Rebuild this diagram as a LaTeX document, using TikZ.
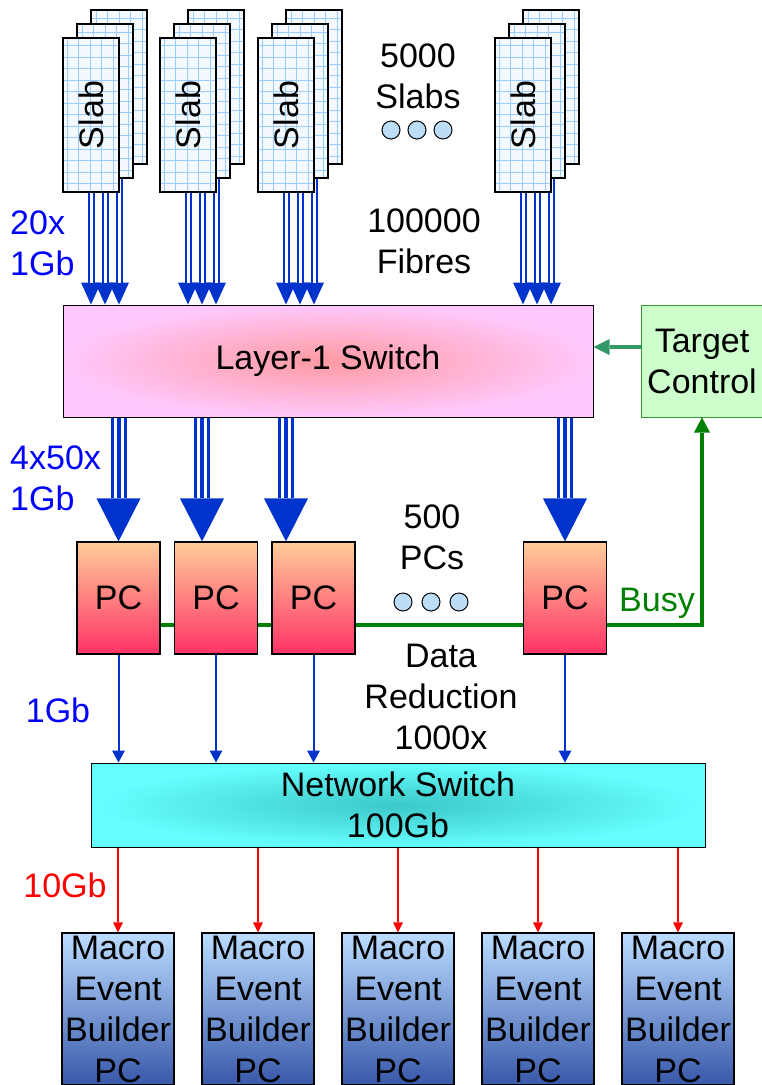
\documentclass[tikz,border=0pt]{standalone}
\usepackage{fontspec}
\setmainfont{Liberation Sans}
\usepackage{graphicx}
\usepackage{xcolor}
\usepackage{tikz}
\usetikzlibrary{arrows.meta, backgrounds}

\definecolor{slabfill}{HTML}{F4F9FF}
\definecolor{gridblue}{HTML}{99CCFF}
\definecolor{fibreblue}{HTML}{0033CC}
\definecolor{labelblue}{HTML}{0000FF}
\definecolor{l1in}{HTML}{FF9AA2}
\definecolor{l1out}{HTML}{FFC8FC}
\definecolor{pctop}{HTML}{FFCC99}
\definecolor{pcbot}{HTML}{FF3366}
\definecolor{nsin}{HTML}{3CC8C8}
\definecolor{nsout}{HTML}{66FFFF}
\definecolor{tcfill}{HTML}{CCFFCC}
\definecolor{tcborder}{HTML}{339933}
\definecolor{mtop}{HTML}{BBDDFF}
\definecolor{mbot}{HTML}{3858AA}
\definecolor{dotblue}{HTML}{BBDDF8}
\definecolor{ctrlgreen}{HTML}{339966}
\definecolor{busygreen}{HTML}{008000}

\begin{document}
\begin{tikzpicture}[
        x=1pt, y=-1pt,
        font=\fontsize{34}{41}\selectfont,
        every node/.style={inner sep=0pt},
        slab/.style={draw, line width=1.2pt, fill=slabfill, minimum width=56pt, minimum height=154pt,
            path picture={\draw[gridblue, line width=0.7pt, step=11.5pt] (path picture bounding box.south west) grid (path picture bounding box.north east);}},
        switch/.style={draw, line width=1pt, inner color=l1in, outer color=l1out, minimum width=530pt, minimum height=112pt},
        pcbox/.style={draw, line width=1.2pt, top color=pctop, bottom color=pcbot, minimum width=83pt, minimum height=112pt},
        netswitch/.style={draw, line width=1pt, inner color=nsin, outer color=nsout, minimum width=614pt, minimum height=84pt, align=center},
        target/.style={draw=tcborder, line width=1pt, fill=tcfill, minimum width=122pt, minimum height=112pt, align=center},
        mebpc/.style={draw, line width=1.2pt, top color=mtop, bottom color=mbot, minimum width=112pt, minimum height=152pt, align=center},
        ring/.style={circle, draw, line width=1pt, fill=dotblue, minimum size=18pt},
        note/.style={align=center},
        fibre/.style={draw=fibreblue, line width=7pt, -{Triangle[width=20pt,length=22pt,line width=0pt]},
            postaction={draw=white, line width=3pt, shorten >=22pt, -}},
        bundle/.style={draw=fibreblue, line width=16pt, -{Triangle[width=44pt,length=43pt,line width=0pt]},
            postaction={draw=white, line width=10pt, shorten >=43pt, -},
            postaction={draw=fibreblue, line width=4pt, shorten >=43pt, -}},
        link/.style={draw=fibreblue, line width=2pt, -{Triangle[width=13pt,length=12pt,line width=0pt]}},
        tengb/.style={draw=red, line width=2pt, -{Triangle[width=10pt,length=10pt,line width=0pt]}},
        ctrl/.style={draw=ctrlgreen, line width=4pt, -{Triangle[width=16pt,length=16pt,line width=0pt]}},
        busy/.style={draw=busygreen, line width=4pt, -{Triangle[width=16pt,length=15pt,line width=0pt]}},
    ]
        \useasboundingbox (0,0) rectangle (762,1085);

        % slab stacks
        \node[slab] (s1b) at (119,87) {};
        \node[slab] (s1m) at (105,101) {};
        \node[slab] (s1f) at (91,115) {\rotatebox{90}{Slab}};
        \node[slab] (s2b) at (216,87) {};
        \node[slab] (s2m) at (202,101) {};
        \node[slab] (s2f) at (188,115) {\rotatebox{90}{Slab}};
        \node[slab] (s3b) at (314,87) {};
        \node[slab] (s3m) at (300,101) {};
        \node[slab] (s3f) at (286,115) {\rotatebox{90}{Slab}};
        \node[slab] (s4b) at (551,87) {};
        \node[slab] (s4m) at (537,101) {};
        \node[slab] (s4f) at (523,115) {\rotatebox{90}{Slab}};

        \node[note] (nslabs) at (418,76) {5000\\Slabs};
        \node[ring] (d1) at (391,130) {};
        \node[ring] (d2) at (417,130) {};
        \node[ring] (d3) at (443,130) {};
        \node[note] (nfibres) at (424,241) {100000\\Fibres};
        \node[align=left, anchor=west, text=labelblue] (gb20) at (10,243) {20x\\1Gb};

        \node[switch] (l1) at (328,361) {Layer-1 Switch};
        \node[target] (tc) at (702,361) {Target\\Control};
        \node[align=left, anchor=west, text=labelblue] (gb200) at (10,478) {4x50x\\1Gb};

        % PCs
        \node[note] (npcs) at (432,537) {500\\PCs};
        \node[pcbox] (pc1) at (118.5,598) {PC};
        \node[pcbox] (pc2) at (216,598) {PC};
        \node[pcbox] (pc3) at (313.5,598) {PC};
        \node[pcbox] (pc4) at (565,598) {PC};
        \node[ring] (d4) at (403,602) {};
        \node[ring] (d5) at (431,602) {};
        \node[ring] (d6) at (459,602) {};
        \node[text=busygreen] (lbusy) at (657,603) {Busy};
        \node[note] (nred) at (441,697) {Data\\Reduction\\1000x};
        \node[text=labelblue] (gb1) at (58,710) {1Gb};

        \node[netswitch] (ns) at (398,805) {Network Switch\\100Gb};
        \node[text=red] (gb10) at (65,885) {10Gb};

        % macro event builders
        \node[mebpc] (m1) at (118,1009) {Macro\\Event\\Builder\\PC};
        \node[mebpc] (m2) at (258,1009) {Macro\\Event\\Builder\\PC};
        \node[mebpc] (m3) at (398,1009) {Macro\\Event\\Builder\\PC};
        \node[mebpc] (m4) at (538,1009) {Macro\\Event\\Builder\\PC};
        \node[mebpc] (m5) at (678,1009) {Macro\\Event\\Builder\\PC};

        \begin{scope}[on background layer]
            \draw[fibre] (s1b.south) -- (s1b.south |- l1.north);
            \draw[fibre] (s1m.south) -- (s1m.south |- l1.north);
            \draw[fibre] (s1f.south) -- (s1f.south |- l1.north);
            \draw[fibre] (s2b.south) -- (s2b.south |- l1.north);
            \draw[fibre] (s2m.south) -- (s2m.south |- l1.north);
            \draw[fibre] (s2f.south) -- (s2f.south |- l1.north);
            \draw[fibre] (s3b.south) -- (s3b.south |- l1.north);
            \draw[fibre] (s3m.south) -- (s3m.south |- l1.north);
            \draw[fibre] (s3f.south) -- (s3f.south |- l1.north);
            \draw[fibre] (s4b.south) -- (s4b.south |- l1.north);
            \draw[fibre] (s4m.south) -- (s4m.south |- l1.north);
            \draw[fibre] (s4f.south) -- (s4f.south |- l1.north);

            \draw[bundle] (pc1.north |- l1.south) -- (pc1.north);
            \draw[bundle] ([xshift=-126pt]l1.south) -- ([xshift=-14pt]pc2.north);
            \draw[bundle] ([xshift=-42pt]l1.south) -- ([xshift=-27.5pt]pc3.north);
            \draw[bundle] (pc4.north |- l1.south) -- (pc4.north);

            \draw[ctrl] ([yshift=14pt]tc.west) -- ([yshift=14pt]l1.east);
            \draw[busy] ([yshift=-27pt]pc1.center) -- ([yshift=-27pt]pc4.center) -| (tc.south);

            \draw[link] (pc1.south) -- (pc1.south |- ns.north);
            \draw[link] (pc2.south) -- (pc2.south |- ns.north);
            \draw[link] (pc3.south) -- (pc3.south |- ns.north);
            \draw[link] (pc4.south) -- (pc4.south |- ns.north);

            \draw[tengb] (ns.south -| m1.north) -- (m1.north);
            \draw[tengb] (ns.south -| m2.north) -- (m2.north);
            \draw[tengb] (ns.south -| m3.north) -- (m3.north);
            \draw[tengb] (ns.south -| m4.north) -- (m4.north);
            \draw[tengb] (ns.south -| m5.north) -- (m5.north);
        \end{scope}
    \end{tikzpicture}
\end{document}
